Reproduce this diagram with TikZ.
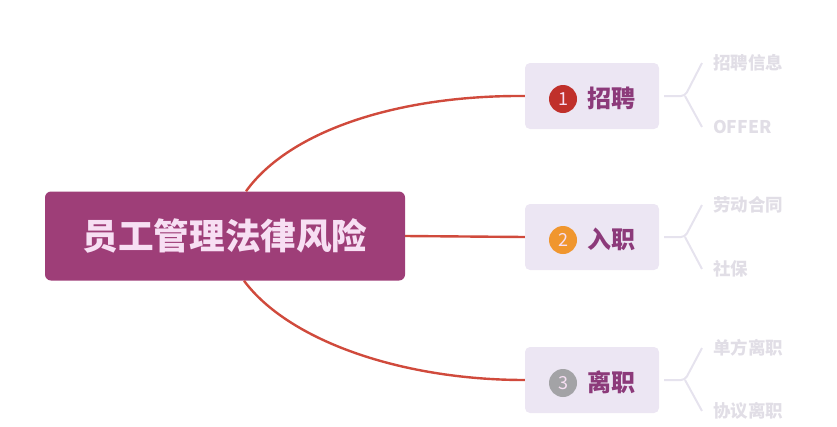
\documentclass[tikz,border=0pt]{standalone}
\usepackage{fontspec}
\newfontfamily\cjk{Noto Sans CJK SC}
\definecolor{rootfill}{HTML}{9E3E78}
\definecolor{roottext}{HTML}{F7DFF3}
\definecolor{topicfill}{HTML}{ECE6F3}
\definecolor{topictext}{HTML}{8C3A7A}
\definecolor{linkred}{HTML}{D04A3C}
\definecolor{forkgray}{HTML}{E6E3EE}
\definecolor{leafgray}{HTML}{E1DEE6}
\definecolor{numred}{HTML}{C0302B}
\definecolor{numorange}{HTML}{F0962E}
\definecolor{numgray}{HTML}{A3A3A6}

\begin{document}
\begin{tikzpicture}[x=1pt,y=-1pt,
  root/.style={rectangle,rounded corners=6pt,fill=rootfill,text=roottext,
    minimum width=360pt,minimum height=89pt,
    font=\cjk\bfseries\fontsize{35.6}{40}\selectfont},
  topic/.style={rectangle,rounded corners=5pt,fill=topicfill,
    minimum width=134pt,minimum height=66pt},
  num/.style={circle,minimum size=28pt,inner sep=0pt,text=roottext,
    font=\cjk\fontsize{18}{18}\selectfont},
  title/.style={anchor=west,inner sep=0pt,text=topictext,
    font=\cjk\bfseries\fontsize{24}{24}\selectfont},
  leaf/.style={anchor=west,inner sep=0pt,text=leafgray,
    font=\cjk\bfseries\fontsize{17.5}{18}\selectfont},
  link/.style={draw=linkred,line width=2.4pt},
  fork/.style={draw=forkgray,line width=2pt,rounded corners=4pt}]
  \useasboundingbox (0,0) rectangle (837,426);

  \node[root] (root) at (225,236) {员工管理法律风险};

  \node[topic] (t1) at (592,96) {};
  \node[topic] (t2) at (592,237) {};
  \node[topic] (t3) at (592,380) {};

  \node[num,fill=numred] (n1) at (563,99) {1};
  \node[num,fill=numorange] (n2) at (563,240) {2};
  \node[num,fill=numgray] (n3) at (563,383) {3};
  \node[title] (h1) at (587,98) {招聘};
  \node[title] (h2) at (587,239) {入职};
  \node[title] (h3) at (587,382) {离职};

  % leaves
  \node[leaf] (l1a) at (713,63) {招聘信息};
  \node[leaf] (l1b) at (713,127) {OFFER};
  \node[leaf] (l2a) at (713,205) {劳动合同};
  \node[leaf] (l2b) at (713,269) {社保};
  \node[leaf] (l3a) at (713,348) {单方离职};
  \node[leaf] (l3b) at (713,411) {协议离职};

  % links from the root
  \draw[link] ([xshift=21pt]root.north) .. controls (290,130) and (400,95) .. (t1.west);
  \draw[link] (root.east) -- (t2.west);
  \draw[link] ([xshift=19pt]root.south) .. controls (288,340) and (400,380) .. (t3.west);

  % forks to the leaves
  \coordinate (f1) at (685,96);
  \coordinate (f2) at (685,237);
  \coordinate (f3) at (685,380);
  \draw[fork] ([xshift=5pt]t1.east) -- (f1) -- ([xshift=-11pt]l1a.west);
  \draw[fork] (f1) -- ([xshift=-11pt]l1b.west);
  \draw[fork] ([xshift=5pt]t2.east) -- (f2) -- ([xshift=-11pt]l2a.west);
  \draw[fork] (f2) -- ([xshift=-11pt]l2b.west);
  \draw[fork] ([xshift=5pt]t3.east) -- (f3) -- ([xshift=-11pt]l3a.west);
  \draw[fork] (f3) -- ([xshift=-11pt]l3b.west);
\end{tikzpicture}
\end{document}
